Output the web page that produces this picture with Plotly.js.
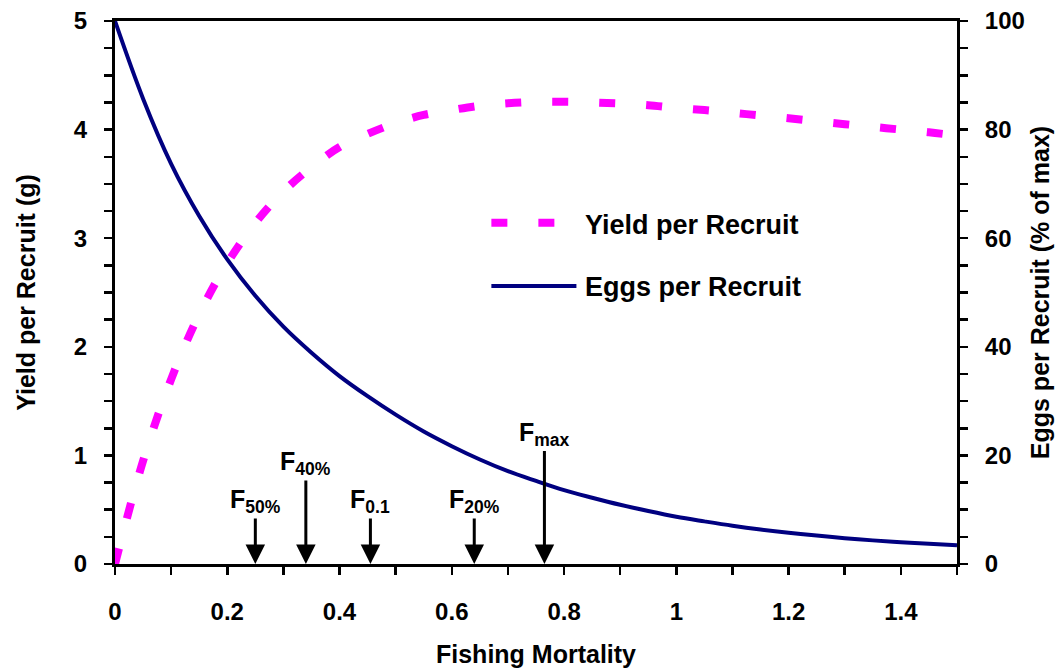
<!DOCTYPE html>
<html lang="en">
<head>
    <meta charset="UTF-8">
    <title>Yield and Eggs per Recruit</title>
    <script src="https://cdn.plot.ly/plotly-3.0.1.min.js"></script>
    <style>
        html, body { margin: 0; padding: 0; background: #fff; }
        #plot { width: 1062px; height: 671px; }
    </style>
</head>

<body>

<div id="plot"></div>

</body>

<script>
    // fishing mortality values the curves were read at
    let fishingF = [0, 0.05, 0.1, 0.15, 0.2, 0.25, 0.3, 0.35, 0.4, 0.45, 0.5, 0.55, 0.6, 0.65, 0.7, 0.75,
        0.8, 0.85, 0.9, 0.95, 1.0, 1.05, 1.1, 1.15, 1.2, 1.25, 1.3, 1.35, 1.4, 1.45, 1.5]

    // yield per recruit (g), left axis
    let yieldPerRecruit = [0, 0.95, 1.70, 2.30, 2.77, 3.14, 3.43, 3.655, 3.84, 3.96, 4.06, 4.135, 4.18, 4.22, 4.243, 4.255,
        4.257, 4.25, 4.24, 4.225, 4.20, 4.18, 4.155, 4.13, 4.105, 4.077, 4.05, 4.025, 4.0, 3.975, 3.945]

    // eggs per recruit (% of max), right axis
    let eggsPerRecruit = [100, 85.7, 73.7, 64.1, 56.1, 49.4, 43.7, 38.9, 34.6, 30.9, 27.5, 24.4, 21.7, 19.25, 17.1, 15.3,
        13.6, 12.2, 10.9, 9.75, 8.7, 7.85, 7.05, 6.35, 5.75, 5.25, 4.75, 4.35, 4.0, 3.72, 3.47]

    // reference points marked with arrows
    let refLabels = ["F<sub>50%</sub>", "F<sub>40%</sub>", "F<sub>0.1</sub>", "F<sub>20%</sub>", "F<sub>max</sub>"]
    let refF = [0.25, 0.34, 0.455, 0.64, 0.765]
    let refArrowTop = [0.42, 0.77, 0.42, 0.42, 1.04]

    let fontFamily = "Liberation Sans, Arial, sans-serif"
    let magenta = "#ff00ff"
    let navy = "#000080"

    let data = [{
        x: fishingF,
        y: yieldPerRecruit,
        type: "scatter",
        mode: "lines",
        name: "Yield per Recruit",
        line: {color: magenta, width: 8, dash: "16px,31px", shape: "spline", smoothing: 1},
        showlegend: false
    }, {
        x: fishingF,
        y: eggsPerRecruit,
        yaxis: "y2",
        type: "scatter",
        mode: "lines",
        name: "Eggs per Recruit",
        line: {color: navy, width: 4, shape: "spline", smoothing: 1},
        showlegend: false
    }]

    let annotations = []
    for (let i = 0; i < refF.length; i++) {
        annotations.push({
            x: refF[i], y: 0, xref: "x", yref: "y",
            ax: refF[i], ay: refArrowTop[i], axref: "x", ayref: "y",
            text: refLabels[i], showarrow: true,
            xanchor: "center", yanchor: "bottom", borderpad: 0,
            arrowhead: 2, arrowsize: 1.3, arrowwidth: 3, arrowcolor: "#000", standoff: 0,
            font: {family: fontFamily, size: 25, color: "#000", weight: "bold"}
        })
    }

    // legend drawn inside the plot, Excel-like
    let legendFont = {family: fontFamily, size: 27, color: "#000", weight: "bold"}
    annotations.push({
        x: 0.556, y: 0.6245, xref: "paper", yref: "paper", xanchor: "left", yanchor: "middle",
        text: "Yield per Recruit", showarrow: false, font: legendFont
    })
    annotations.push({
        x: 0.556, y: 0.511, xref: "paper", yref: "paper", xanchor: "left", yanchor: "middle",
        text: "Eggs per Recruit", showarrow: false, font: legendFont
    })

    let shapes = [{
        type: "line", xref: "paper", yref: "paper",
        x0: 0.447, x1: 0.5225, y0: 0.6285, y1: 0.6285,
        line: {color: magenta, width: 8, dash: "16px,31px"}
    }, {
        type: "line", xref: "paper", yref: "paper",
        x0: 0.447, x1: 0.548, y0: 0.512, y1: 0.512,
        line: {color: navy, width: 4}
    }]

    let tickFont = {family: fontFamily, size: 24, color: "#000", weight: "bold"}
    let titleFont = {family: fontFamily, size: 25, color: "#000", weight: "bold"}

    let layout = {
        width: 1062,
        height: 671,
        margin: {l: 115, r: 105, t: 21, b: 107},
        paper_bgcolor: "#fff",
        plot_bgcolor: "#fff",
        showlegend: false,
        xaxis: {
            range: [0, 1.5],
            tick0: 0, dtick: 0.2,
            ticks: "outside", ticklen: 8, tickwidth: 2.5, tickcolor: "#000",
            minor: {dtick: 0.1, ticks: "outside", ticklen: 8, tickwidth: 2.5, tickcolor: "#000", showgrid: false},
            showline: true, linewidth: 3, linecolor: "#000", mirror: true,
            showgrid: false, zeroline: false,
            tickfont: tickFont, ticklabelstandoff: 16,
            title: {text: "Fishing Mortality", font: titleFont, standoff: 22}
        },
        yaxis: {
            range: [0, 5],
            tick0: 0, dtick: 1,
            ticks: "outside", ticklen: 8, tickwidth: 2.5, tickcolor: "#000",
            minor: {dtick: 0.25, ticks: "outside", ticklen: 8, tickwidth: 2.5, tickcolor: "#000", showgrid: false},
            showline: true, linewidth: 3, linecolor: "#000",
            showgrid: false, zeroline: false,
            tickfont: tickFont, ticklabelstandoff: 12,
            title: {text: "Yield per Recruit (g)", font: titleFont, standoff: 32}
        },
        yaxis2: {
            range: [0, 100],
            overlaying: "y", side: "right",
            tick0: 0, dtick: 20,
            ticks: "outside", ticklen: 8, tickwidth: 2.5, tickcolor: "#000",
            minor: {dtick: 5, ticks: "outside", ticklen: 8, tickwidth: 2.5, tickcolor: "#000", showgrid: false},
            showline: true, linewidth: 3, linecolor: "#000",
            showgrid: false, zeroline: false,
            tickfont: tickFont, ticklabelstandoff: 12,
            title: {text: "Eggs per Recruit (% of max)", font: titleFont, standoff: 8}
        },
        annotations: annotations,
        shapes: shapes
    }

    Plotly.newPlot("plot", data, layout, {displayModeBar: false, staticPlot: true})
</script>
</html>
